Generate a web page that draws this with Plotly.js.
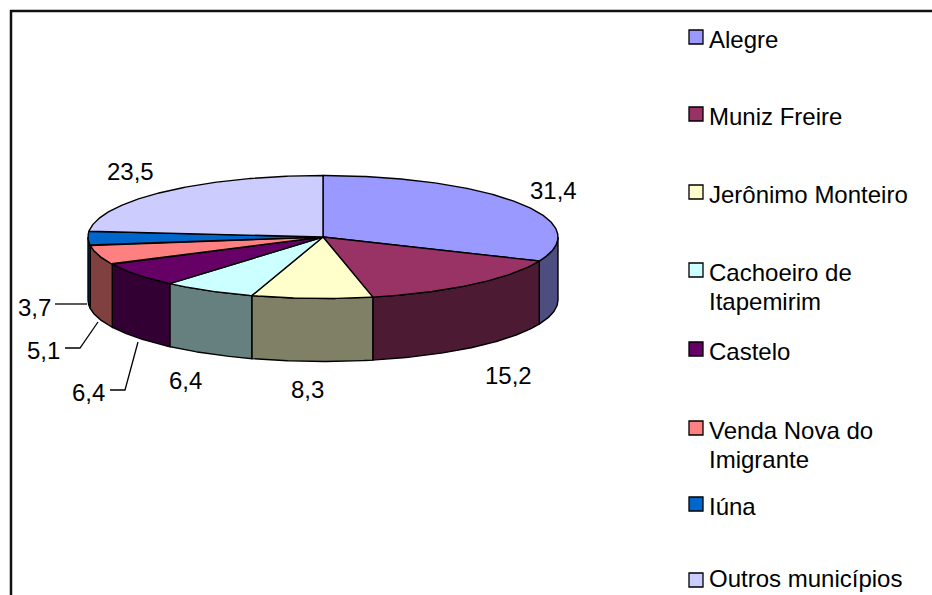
<!DOCTYPE html>
<html>
<head>
<meta charset="utf-8">
<script src="https://cdn.plot.ly/plotly-3.0.1.min.js"></script>
<style>html,body{margin:0;padding:0;background:#fff;}</style>
</head>
<body>
<div id="chart" style="width:932px;height:595px;"></div>
<script>
// ---- data ----
const categories = ['Alegre', 'Muniz Freire', 'Jerônimo Monteiro', 'Cachoeiro de Itapemirim', 'Castelo', 'Venda Nova do Imigrante', 'Iúna', 'Outros municípios'];
const values = [31.4, 15.2, 8.3, 6.4, 6.4, 5.1, 3.7, 23.5];
const valueLabels = ['31,4', '15,2', '8,3', '6,4', '6,4', '5,1', '3,7', '23,5'];
const legendLines = [['Alegre'], ['Muniz Freire'], ['Jerônimo Monteiro'], ['Cachoeiro de', 'Itapemirim'], ['Castelo'], ['Venda Nova do', 'Imigrante'], ['Iúna'], ['Outros municípios']];

// ---- styles ----
const topColors = ['#9999FF', '#993366', '#FFFFCC', '#CCFFFF', '#660066', '#FF8080', '#0066CC', '#CCCCFF'];
const wallColors = ['#4D4D80', '#4D1A33', '#808066', '#668080', '#330033', '#804040', '#003366', '#666680'];
const FONT = 'Arial, "Liberation Sans", sans-serif';
const W = 932, H = 595;
const cx = 323, cy = 237, rx = 235, ry = 61.5, depth = 63;
// label positions (pixel), leader paths for small slices
const labelPos = [[553, 190], [508, 375], [307, 389], [185, 380], [88, 392], [43, 350], [34, 307], [130, 171]];
const leaders = [null, null, null, null,
  'M 110 390 L 125 390 L 138 342',
  'M 65 348 L 80 348 L 98 322',
  'M 55 304 L 87 304',
  null];
const legendY = [37, 114, 192, 270, 349, 428, 504, 580];
const legendTextDy = [2.5, 2.5, 2.5, 2.5, 2.5, 2.5, 2.5, -1.5];

function pt(th, dy) { return [cx + rx * Math.sin(th), cy - ry * Math.cos(th) + (dy || 0)]; }
function arc(a0, a1, dy) {
  const n = Math.max(2, Math.ceil((a1 - a0) / (Math.PI / 360)));
  const out = [];
  for (let i = 0; i <= n; i++) out.push(pt(a0 + (a1 - a0) * i / n, dy));
  return out;
}

const total = values.reduce((a, b) => a + b, 0);
const angles = [];
let acc = 0;
values.forEach(v => { const a0 = acc / total * 2 * Math.PI; acc += v; angles.push([a0, acc / total * 2 * Math.PI]); });

const traces = [];
// side walls (front half only)
angles.forEach(([a0, a1], i) => {
  const s = Math.max(a0, Math.PI / 2), e = Math.min(a1, 3 * Math.PI / 2);
  if (e <= s) return;
  const top = arc(s, e, 0), bot = arc(s, e, depth).reverse();
  const pts = top.concat(bot); pts.push(top[0]);
  traces.push({
    type: 'scatter', mode: 'lines', x: pts.map(p => p[0]), y: pts.map(p => p[1]),
    fill: 'toself', fillcolor: wallColors[i], line: {color: '#000', width: 1.4},
    hoverinfo: 'skip', showlegend: false, name: categories[i]
  });
});
// top faces
angles.forEach(([a0, a1], i) => {
  const pts = [[cx, cy]].concat(arc(a0, a1, 0)); pts.push([cx, cy]);
  traces.push({
    type: 'scatter', mode: 'lines', x: pts.map(p => p[0]), y: pts.map(p => p[1]),
    fill: 'toself', fillcolor: topColors[i], line: {color: '#000', width: 1.4},
    hoverinfo: 'text', text: categories[i] + ': ' + valueLabels[i], showlegend: false, name: categories[i]
  });
});

const annotations = [];
const shapes = [];
valueLabels.forEach((t, i) => {
  annotations.push({xref: 'x', yref: 'y', x: labelPos[i][0], y: labelPos[i][1], text: t, showarrow: false,
    xanchor: 'center', yanchor: 'middle', font: {family: FONT, size: 24, color: '#000'}});
  if (leaders[i]) shapes.push({type: 'path', xref: 'x', yref: 'y', path: leaders[i], line: {color: '#000', width: 1.3}});
});
// legend
legendLines.forEach((lines, i) => {
  const yc = legendY[i];
  shapes.push({type: 'rect', xref: 'x', yref: 'y', x0: 689, x1: 703, y0: yc - 7, y1: yc + 7,
    fillcolor: topColors[i], line: {color: '#000', width: 1.3}});
  lines.forEach((ln, k) => {
    annotations.push({xref: 'x', yref: 'y', x: 707, y: yc + legendTextDy[i] + k * 29, text: ln, showarrow: false,
      xanchor: 'left', yanchor: 'middle', font: {family: FONT, size: 24, color: '#000'}});
  });
});
// chart border (top + left)
shapes.push({type: 'path', xref: 'x', yref: 'y', path: 'M 11 600 L 11 11 L 940 11', line: {color: '#111', width: 2.5}});

const layout = {
  width: W, height: H, autosize: false,
  margin: {l: 0, r: 0, t: 0, b: 0, pad: 0},
  paper_bgcolor: '#fff', plot_bgcolor: '#fff',
  xaxis: {range: [0, W], visible: false, fixedrange: true},
  yaxis: {range: [H, 0], visible: false, fixedrange: true},
  showlegend: false,
  shapes: shapes, annotations: annotations
};
Plotly.newPlot('chart', traces, layout, {displayModeBar: false});
</script>
</body>
</html>
